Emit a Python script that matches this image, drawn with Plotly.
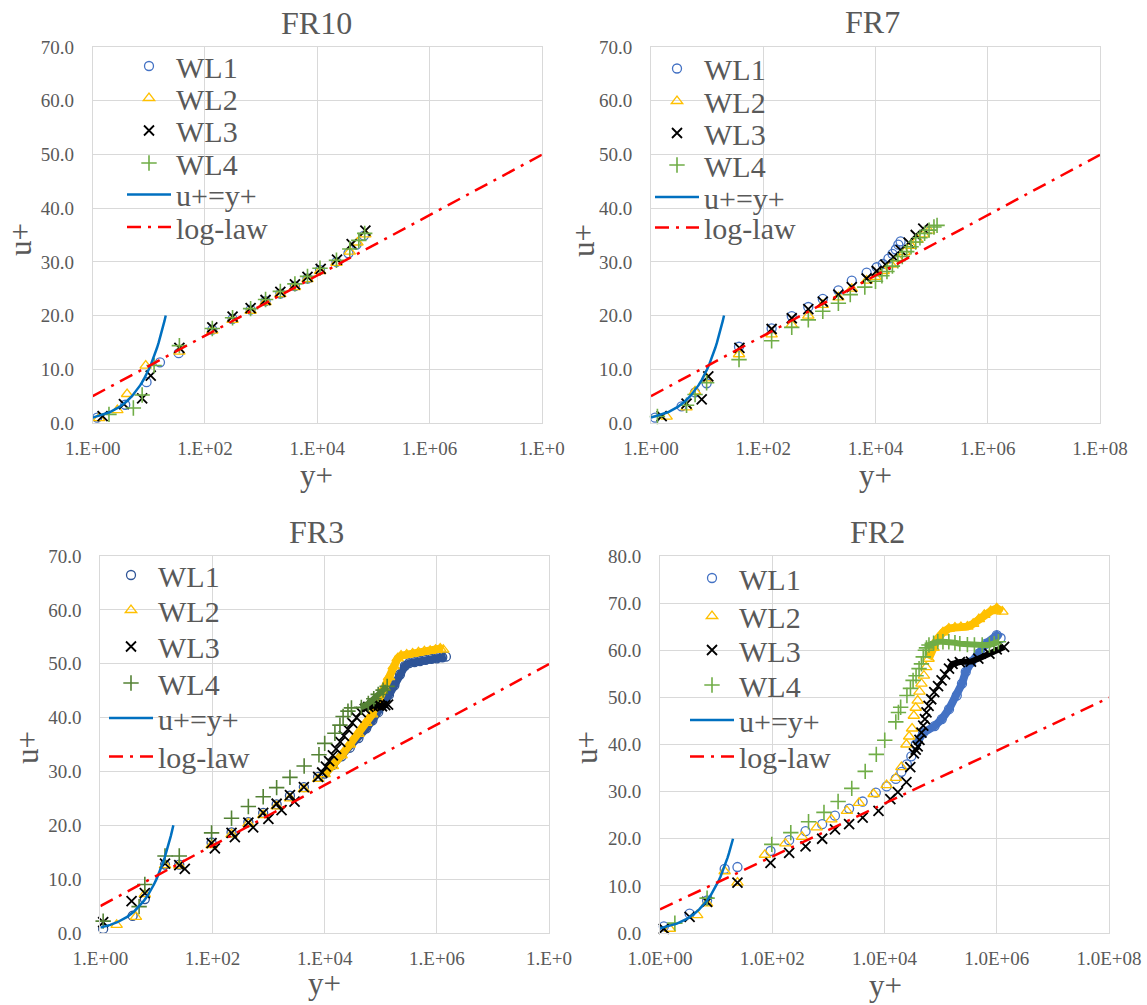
import numpy as np
import plotly.graph_objects as go

W, H = 1147, 1005
FONT = "Liberation Serif, Times New Roman, serif"
GREY = "#595959"
GRID = "#D9D9D9"

# ---------------- reference lines ----------------
KAPPA = 0.41
B_CONST = 5.0
visc_yplus = [1, 1.5, 2, 3, 4, 5, 6, 7, 8, 9, 10, 11, 12, 13, 14, 15, 16, 17, 18, 19, 20]
loglaw_yplus = [1, 1e1, 1e2, 1e3, 1e4, 1e5, 1e6, 1e7, 1e8]

# ---------------- FR10 ----------------
fr10_wl1_y = [1.2, 3.8, 9.1, 15.8, 34, 135, 310, 650, 1200, 2200, 4000, 6700, 11200, 22000, 36000, 50000, 68000]
fr10_wl1_u = [1.0, 3.4, 7.6, 11.3, 13.0, 17.4, 19.4, 21.1, 22.7, 24.1, 25.5, 26.9, 28.5, 30.0, 31.6, 33.2, 34.9]
fr10_wl2_y = [1.3, 2.75, 4.1, 8.8, 35, 135, 310, 650, 1200, 2200, 4000, 6700, 11200, 22000, 38000, 52000, 72000]
fr10_wl2_u = [0.9, 2.4, 5.4, 10.7, 13.3, 17.2, 19.2, 20.9, 22.5, 24.0, 25.3, 26.8, 28.3, 29.8, 31.9, 33.6, 35.1]
fr10_wl3_y = [1.5, 3.6, 7.6, 10.8, 35, 135, 310, 650, 1200, 2200, 4000, 6700, 11500, 22500, 41000, 72000]
fr10_wl3_u = [1.3, 3.5, 4.6, 8.8, 14.0, 17.8, 19.8, 21.4, 22.9, 24.4, 25.8, 27.2, 28.7, 30.4, 33.3, 35.8]
fr10_wl4_y = [1.95, 5.3, 7.6, 12.4, 35, 135, 310, 650, 1200, 2200, 4000, 6700, 11200, 22000, 38000, 55000, 70000]
fr10_wl4_u = [1.6, 2.8, 5.2, 10.7, 14.4, 17.6, 19.6, 21.3, 23.0, 24.5, 25.9, 27.3, 28.8, 30.3, 32.4, 34.0, 35.3]

# ---------------- FR7 ----------------
fr7_wl1_y = [1.18, 3.5, 6.1, 9.8, 37, 141, 322, 635, 1150, 2180, 3780, 6950, 10500, 13500, 17000, 20000, 23000, 25500, 28000]
fr7_wl1_u = [1.0, 3.1, 5.7, 7.4, 14.2, 17.6, 19.9, 21.6, 23.1, 24.7, 26.5, 28.0, 29.0, 29.6, 30.6, 31.5, 32.3, 33.2, 33.8]
fr7_wl2_y = [1.9, 4.3, 6.1, 9.8, 37, 141, 322, 635, 1150, 2180, 3780, 6950, 10000, 14000, 19000, 25000, 33000, 43000, 56000, 72000, 90000]
fr7_wl2_u = [1.2, 2.9, 5.9, 8.3, 12.8, 16.5, 18.3, 20.0, 22.0, 23.4, 25.0, 26.5, 27.2, 28.3, 29.5, 30.6, 31.8, 33.0, 34.1, 35.1, 35.8]
fr7_wl3_y = [1.55, 4.3, 8.0, 10.5, 37.6, 141, 322, 635, 1150, 2180, 3780, 6950, 10500, 15000, 21000, 28000, 39000, 52000, 71000]
fr7_wl3_u = [1.3, 3.6, 4.4, 8.7, 14.0, 17.5, 19.5, 21.2, 22.6, 23.9, 25.3, 26.9, 28.3, 29.5, 30.9, 32.2, 33.6, 35.0, 36.2]
fr7_wl4_y = [1.3, 4.3, 6.1, 9.8, 37, 141, 322, 635, 1150, 2180, 3550, 6450, 10000, 13000, 16000, 20000, 25000, 30000,
             36000, 43000, 52000, 62000, 75000, 90000, 110000, 125000]
fr7_wl4_u = [1.2, 3.3, 5.3, 7.5, 11.8, 15.3, 17.8, 19.2, 20.8, 22.3, 23.9, 25.3, 26.4, 27.4, 28.2, 29.2, 30.2, 31.0,
             31.9, 32.8, 33.7, 34.5, 35.3, 35.9, 36.5, 36.8]

# ---------------- FR3 ----------------
fr3_wl1_y = [1.12, 3.76, 6.2, 14.2, 25.5, 96, 218, 435, 800, 1390, 2400, 4250, 7640]
fr3_wl1_u = [0.75, 3.2, 6.3, 12.7, 12.7, 16.8, 18.7, 20.6, 22.3, 23.9, 25.5, 27.1, 29.0]
fr3_wl1_band_y = [10000, 14000, 20000, 28000, 40000, 55000, 71000, 90000, 112000, 140000, 175000, 220000, 270000,
                  320000, 400000, 500000, 630000, 800000, 1000000, 1250000, 1450000]
fr3_wl1_band_u = [29.6, 31.2, 32.8, 34.4, 36.2, 38.0, 39.5, 41.0, 42.5, 44.2, 46.0, 48.0, 49.6,
                  50.1, 50.3, 50.5, 50.7, 50.9, 51.0, 51.2, 51.3]
fr3_wl2_y = [1.95, 4.3, 6.2, 14.2, 25.5, 96, 218, 435, 800, 1390, 2400, 4250, 7640]
fr3_wl2_u = [1.5, 3.0, 7.2, 12.6, 12.5, 16.3, 18.3, 20.3, 21.9, 23.5, 25.0, 26.7, 28.6]
fr3_wl2_band_y = [10000, 14000, 20000, 28000, 40000, 55000, 70000, 90000, 115000, 140000, 170000, 200000, 230000,
                  290000, 370000, 470000, 600000, 760000, 950000, 1150000, 1300000]
fr3_wl2_band_u = [29.5, 31.0, 33.0, 35.0, 37.0, 39.0, 40.6, 43.0, 45.5, 47.5, 49.5, 51.0, 51.5,
                  51.7, 51.9, 52.1, 52.3, 52.4, 52.6, 52.8, 52.6]
fr3_wl3_y = [1.12, 3.6, 6.2, 14.2, 25.5, 32, 96, 110, 218, 250, 435, 530, 800, 990, 1390, 1700, 2400, 2900, 4250, 7640,
             9000, 10500, 12000, 14000, 16000, 19000, 22000, 26000, 31000, 37000, 44000, 52000]
fr3_wl3_u = [2.0, 5.9, 7.4, 12.9, 12.6, 11.9, 16.7, 15.7, 18.6, 17.8, 20.5, 19.6, 22.3, 21.2, 24.0, 22.8, 25.6, 24.4, 27.1, 29.0,
             29.8, 30.9, 31.9, 33.0, 34.2, 35.5, 36.6, 37.8, 39.0, 40.0, 41.0, 41.6]
fr3_wl3_band_y = [60000, 70000, 80000, 92000, 105000, 120000, 135000]
fr3_wl3_band_u = [42.0, 42.2, 42.3, 42.2, 42.1, 42.3, 42.4]
fr3_wl4_y = [1.12, 4.9, 6.2, 14.2, 25.5, 96, 218, 435, 800, 1390, 2400, 4300, 7900, 10000, 15200, 18700, 21300, 26000, 30000]
fr3_wl4_u = [2.2, 4.9, 9.0, 14.3, 14.3, 18.6, 21.3, 23.5, 25.3, 27.0, 28.9, 31.0, 33.1, 35.2, 37.1, 38.6, 40.2, 41.2, 41.8]
fr3_wl4_band_y = [45000, 60000, 75000, 90000, 110000, 130000]
fr3_wl4_band_u = [41.9, 42.6, 43.5, 44.3, 45.1, 45.8]

# ---------------- FR2 ----------------
fr2_wl1_y = [1.17, 3.37, 6.9, 14.2, 24, 93, 200, 392, 775, 1310, 2340, 4080, 7000, 10900, 15900, 20000, 25000, 30000]
fr2_wl1_u = [1.4, 4.1, 6.9, 13.6, 14.0, 17.4, 19.7, 21.6, 23.1, 24.9, 26.4, 27.9, 29.8, 31.1, 32.7, 34.2, 35.8, 37.5]
fr2_wl1_band_y = [36000, 49000, 78000, 105000, 141000, 194000, 240000, 280000, 352000, 475000, 645000, 1000000, 1170000]
fr2_wl1_band_u = [40.0, 42.5, 43.9, 45.4, 47.5, 50.4, 52.9, 55.4, 57.5, 59.3, 61.4, 63.2, 62.6]
fr2_wl2_y = [1.5, 4.6, 6.9, 14.2, 24, 74, 171, 340, 620, 1130, 2140, 3520, 6400, 10900, 15900, 20000, 24600, 27500,
             31000, 33300, 36000, 39000, 42000, 45500, 50400, 55300]
fr2_wl2_u = [0.9, 3.8, 6.3, 13.1, 10.7, 16.6, 19.0, 20.4, 22.4, 24.1, 25.9, 27.6, 29.5, 31.4, 32.9, 35.2, 40.0, 41.7,
             43.4, 46.1, 47.8, 49.3, 51.2, 52.9, 54.6, 56.4]
fr2_wl2_band_y = [61000, 75000, 89000, 110000, 140000, 180000, 230000, 300000, 380000, 480000, 600000, 780000, 1000000, 1260000]
fr2_wl2_band_u = [58.2, 60.5, 62.5, 63.8, 64.6, 64.8, 64.9, 65.0, 65.6, 66.6, 67.5, 68.3, 68.9, 68.2]
fr2_wl3_y = [1.17, 3.37, 6.9, 24, 93, 200, 392, 775, 1310, 2340, 4080, 7820, 12700, 17300, 24600, 28800, 33400,
             36000, 39000, 42000, 45500, 49000, 52500, 56000, 61000, 68000, 77000, 90000, 104000, 120000]
fr2_wl3_u = [0.9, 3.4, 6.6, 10.7, 14.9, 17.0, 18.4, 20.0, 22.0, 23.1, 24.5, 25.9, 28.4, 29.9, 32.0, 35.2, 38.1,
             38.9, 39.6, 41.0, 42.5, 44.0, 45.4, 46.8, 48.2, 49.6, 51.1, 52.4, 53.6, 54.9]
fr2_wl3_band_y = [141000, 163000, 220000, 347000, 470000, 740000, 1000000, 1350000]
fr2_wl3_band_u = [56.1, 57.1, 57.5, 57.6, 58.2, 59.3, 60.2, 60.7]
fr2_wl4_y = [1.84, 6.9, 98, 214, 443, 835, 1490, 2610, 4530, 7140, 10100, 15900, 17700, 19400, 25100, 29000, 32300,
             36500, 41300, 45500, 49000, 53500]
fr2_wl4_u = [2.1, 7.4, 18.8, 21.3, 23.6, 25.6, 27.9, 30.7, 34.3, 37.9, 40.9, 44.8, 46.8, 47.9, 50.4, 51.9, 53.6,
             54.6, 56.1, 57.1, 58.6, 60.0]
fr2_wl4_band_y = [56000, 62000, 75000, 89000, 110000, 140000, 180000, 220000, 300000, 400000, 550000, 740000, 900000, 1070000]
fr2_wl4_band_u = [60.5, 61.1, 61.5, 61.8, 61.8, 61.8, 61.6, 61.4, 61.2, 61.1, 61.1, 61.1, 61.4, 61.8]

series_names = ["WL1", "WL2", "WL3", "WL4"]
x_ticks = [1, 1e2, 1e4, 1e6, 1e8]

panels = [
    dict(title="FR10", box=(92.7, 47, 541.8, 423), ymax=70,
         ticktext=["1.E+00", "1.E+02", "1.E+04", "1.E+06", "1.E+0"],
         colors=["#4472C4", "#FFC000", "#000000", "#70AD47"],
         data=[(fr10_wl1_y, fr10_wl1_u, None, None), (fr10_wl2_y, fr10_wl2_u, None, None),
               (fr10_wl3_y, fr10_wl3_u, None, None), (fr10_wl4_y, fr10_wl4_u, None, None)],
         leg_x=122, leg_y=[66, 98, 130.5, 163, 194.5, 227],
         title_xy=(316, 23), ylab_xy=(20, 240), xlab_xy=(316, 476)),
    dict(title="FR7", box=(651, 47, 1100, 423), ymax=70,
         ticktext=["1.E+00", "1.E+02", "1.E+04", "1.E+06", "1.E+08"],
         colors=["#4472C4", "#FFC000", "#000000", "#70AD47"],
         data=[(fr7_wl1_y, fr7_wl1_u, None, None), (fr7_wl2_y, fr7_wl2_u, None, None),
               (fr7_wl3_y, fr7_wl3_u, None, None), (fr7_wl4_y, fr7_wl4_u, None, None)],
         leg_x=650, leg_y=[68.5, 101, 133, 165, 197, 227.5],
         title_xy=(872, 22), ylab_xy=(583, 240), xlab_xy=(875, 476)),
    dict(title="FR3", box=(100.4, 556, 549, 933), ymax=70,
         ticktext=["1.E+00", "1.E+02", "1.E+04", "1.E+06", "1.E+0"],
         colors=["#2F5597", "#FFC000", "#000000", "#548235"],
         data=[(fr3_wl1_y, fr3_wl1_u, fr3_wl1_band_y, fr3_wl1_band_u),
               (fr3_wl2_y, fr3_wl2_u, fr3_wl2_band_y, fr3_wl2_band_u),
               (fr3_wl3_y, fr3_wl3_u, fr3_wl3_band_y, fr3_wl3_band_u),
               (fr3_wl4_y, fr3_wl4_u, fr3_wl4_band_y, fr3_wl4_band_u)],
         leg_x=104, leg_y=[575, 610, 646.5, 683, 718, 756.5],
         title_xy=(316, 532), ylab_xy=(27, 748), xlab_xy=(324, 983)),
    dict(title="FR2", box=(660, 556, 1109, 933), ymax=80,
         ticktext=["1.0E+00", "1.0E+02", "1.0E+04", "1.0E+06", "1.0E+08"],
         colors=["#4472C4", "#FFC000", "#000000", "#70AD47"],
         data=[(fr2_wl1_y, fr2_wl1_u, fr2_wl1_band_y, fr2_wl1_band_u),
               (fr2_wl2_y, fr2_wl2_u, fr2_wl2_band_y, fr2_wl2_band_u),
               (fr2_wl3_y, fr2_wl3_u, fr2_wl3_band_y, fr2_wl3_band_u),
               (fr2_wl4_y, fr2_wl4_u, fr2_wl4_band_y, fr2_wl4_band_u)],
         leg_x=685, leg_y=[578, 616, 650, 685, 720, 756.5],
         title_xy=(877, 532), ylab_xy=(586, 748), xlab_xy=(885, 985)),
]

SYMBOLS = ["circle-open", "triangle-up-open", "x-thin-open", "cross-thin-open"]
SIZES = [9, 10, 10, 11]
LWIDTH = [1.3, 1.3, 1.8, 1.6]
BAND_W = [8, 8, 6, 6]

fig = go.Figure()
layout = dict(width=W, height=H, margin=dict(l=0, r=0, t=0, b=0, autoexpand=False),
              paper_bgcolor="white", plot_bgcolor="white", showlegend=True)
annotations = []

visc_u = list(visc_yplus)
loglaw_u = [np.log(v) / KAPPA + B_CONST for v in loglaw_yplus]

tick_font = dict(family=FONT, size=19, color=GREY)
legend_font = dict(family=FONT, size=30, color=GREY)
label_font = dict(family=FONT, size=31, color=GREY)

for k, p in enumerate(panels, start=1):
    xa = "x" if k == 1 else f"x{k}"
    ya = "y" if k == 1 else f"y{k}"
    x0, top, x1, bottom = p["box"]

    layout["xaxis" if k == 1 else f"xaxis{k}"] = dict(
        domain=[x0 / W, x1 / W], anchor=ya, type="log", range=[0, 8], automargin=False,
        tickvals=x_ticks, ticktext=p["ticktext"], tickfont=tick_font,
        showgrid=True, gridcolor=GRID, gridwidth=1, zeroline=False,
        showline=True, linecolor=GRID, linewidth=1, mirror=True, ticks="",
        ticklabelstandoff=8)
    layout["yaxis" if k == 1 else f"yaxis{k}"] = dict(
        domain=[1 - bottom / H, 1 - top / H], anchor=xa, range=[0, p["ymax"]], automargin=False,
        dtick=10, tickformat=".1f", tickfont=tick_font,
        showgrid=True, gridcolor=GRID, gridwidth=1, zeroline=False,
        showline=True, linecolor=GRID, linewidth=1, mirror=True, ticks="",
        ticklabelstandoff=14)

    leg_names = []
    for j in range(6):
        n = (k - 1) * 6 + j + 1
        leg_names.append("legend" if n == 1 else f"legend{n}")
        layout[leg_names[-1]] = dict(
            x=p["leg_x"] / W, y=1 - p["leg_y"][j] / H, xanchor="left", yanchor="middle",
            bgcolor="rgba(0,0,0,0)", borderwidth=0, font=legend_font, itemwidth=44,
            itemclick=False, itemdoubleclick=False)

    for j, (ys, us, by, bu) in enumerate(p["data"]):
        col = p["colors"][j]
        marker = dict(symbol=SYMBOLS[j], size=SIZES[j], color=col,
                      line=dict(color=col, width=LWIDTH[j]))
        if by is not None:
            fig.add_trace(go.Scatter(
                x=by, y=bu, mode="lines+markers", marker=marker,
                line=dict(color=col, width=BAND_W[j]), showlegend=False,
                cliponaxis=False, xaxis=xa, yaxis=ya, hoverinfo="skip"))
        fig.add_trace(go.Scatter(
            x=ys, y=us, mode="markers", name=series_names[j], marker=marker,
            legend=leg_names[j], cliponaxis=False, xaxis=xa, yaxis=ya))

    fig.add_trace(go.Scatter(
        x=visc_yplus, y=visc_u, mode="lines", name="u+=y+",
        line=dict(color="#0070C0", width=2.5), legend=leg_names[4],
        xaxis=xa, yaxis=ya))
    fig.add_trace(go.Scatter(
        x=loglaw_yplus, y=loglaw_u, mode="lines", name="log-law",
        line=dict(color="#FF0000", width=2.5, dash="14px,7px,3px,7px"),
        legend=leg_names[5], xaxis=xa, yaxis=ya))

    tx, ty = p["title_xy"]
    annotations.append(dict(text=p["title"], x=tx / W, y=1 - ty / H, xref="paper", yref="paper",
                            xanchor="center", yanchor="middle", showarrow=False,
                            font=dict(family=FONT, size=32, color=GREY)))
    lx, ly = p["ylab_xy"]
    annotations.append(dict(text="u+", x=lx / W, y=1 - ly / H, xref="paper", yref="paper",
                            xanchor="center", yanchor="middle", showarrow=False, textangle=-90,
                            font=label_font))
    bx, by_ = p["xlab_xy"]
    annotations.append(dict(text="y+", x=bx / W, y=1 - by_ / H, xref="paper", yref="paper",
                            xanchor="center", yanchor="middle", showarrow=False,
                            font=label_font))

layout["annotations"] = annotations
fig.update_layout(**layout)
fig.write_html("out.html")
